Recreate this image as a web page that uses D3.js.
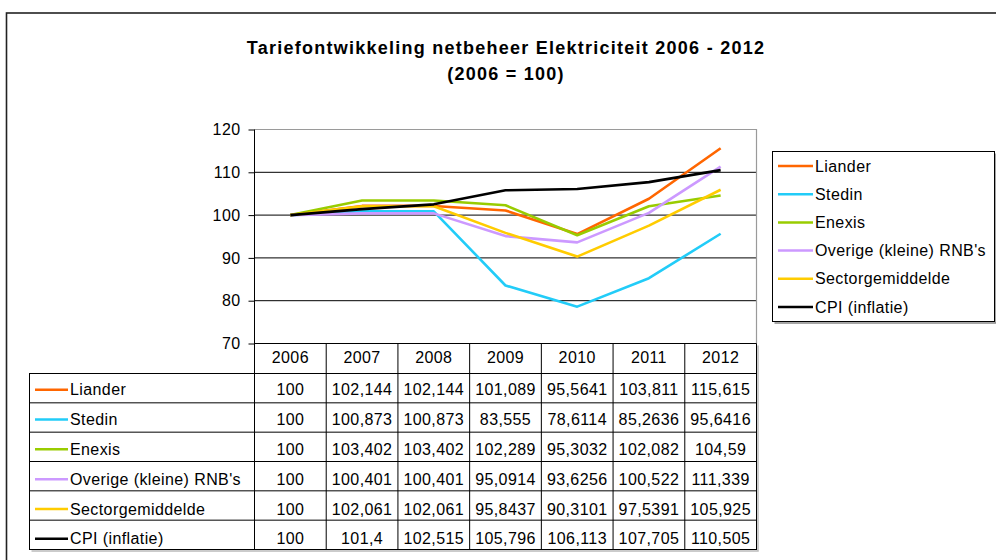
<!DOCTYPE html>
<html>
<head>
<meta charset="utf-8">
<script src="https://cdn.jsdelivr.net/npm/d3@7"></script>
<style>
  html, body { margin: 0; padding: 0; background: #fff; }
  svg { display: block; font-family: "Liberation Sans", Arial, sans-serif; }
</style>
</head>
<body>
<svg id="chart" width="996" height="560"></svg>
<script>
// ---- data ----
const years = ["2006", "2007", "2008", "2009", "2010", "2011", "2012"];
const seriesNames = ["Liander", "Stedin", "Enexis", "Overige (kleine) RNB's", "Sectorgemiddelde", "CPI (inflatie)"];
const liander  = [100, 102.144, 102.144, 101.089, 95.5641, 103.811, 115.615];
const stedin   = [100, 100.873, 100.873, 83.555, 78.6114, 85.2636, 95.6416];
const enexis   = [100, 103.402, 103.402, 102.289, 95.3032, 102.082, 104.59];
const overige  = [100, 100.401, 100.401, 95.0914, 93.6256, 100.522, 111.339];
const sector   = [100, 102.061, 102.061, 95.8437, 90.3101, 97.5391, 105.925];
const cpi      = [100, 101.4, 102.515, 105.796, 106.113, 107.705, 110.505];
const yTicks = [70, 80, 90, 100, 110, 120];
const colors = ["#FF6600", "#22CCF8", "#99CC00", "#CC99FF", "#FFCC00", "#000000"];
const titleLines = ["Tariefontwikkeling netbeheer Elektriciteit 2006 - 2012", "(2006 = 100)"];

const series = seriesNames.map((name, i) => ({
  name, color: colors[i], values: [liander, stedin, enexis, overige, sector, cpi][i]
}));

const svg = d3.select("#chart");
const FS = 16;

// outer chart border
svg.append("rect").attr("x", 6.5).attr("y", 13).attr("width", 1000).attr("height", 600)
  .attr("fill", "#fff").attr("stroke", "#222").attr("stroke-width", 1.6);

// title
svg.append("g").selectAll("text").data(titleLines).join("text")
  .attr("x", 506).attr("y", (d, i) => 54 + i * 26)
  .attr("text-anchor", "middle").attr("font-weight", "bold")
  .attr("font-size", 18).attr("letter-spacing", 1.25).attr("fill", "#000")
  .text(d => d);

// scales
const x = d3.scaleBand().domain(years).range([254.5, 756.5]);
const y = d3.scaleLinear().domain([70, 120]).range([343.5, 129.5]);
const rows = d3.scaleBand().domain(seriesNames).range([373.5, 549.5]);

// gridlines
svg.append("g").selectAll("line").data(yTicks.filter(t => t > 70 && t < 120)).join("line")
  .attr("x1", 254.5).attr("x2", 756.5).attr("y1", d => y(d)).attr("y2", d => y(d))
  .attr("stroke", "#000").attr("stroke-width", 1);

// plot area border (top/right grey)
svg.append("path")
  .attr("d", `M254.5,${y(120)}H756.5V${y(70)}`)
  .attr("fill", "none").attr("stroke", "#9a9a9a").attr("stroke-width", 1.2);

// y axis
const yAxis = d3.axisLeft(y).tickValues(yTicks).tickSize(6).tickPadding(8).tickFormat(d3.format("d"));
const ya = svg.append("g").attr("transform", "translate(254.5,0)").call(yAxis);
ya.select(".domain").remove();
ya.selectAll("line").attr("stroke", "#000");
ya.selectAll("text").attr("font-size", FS).attr("fill", "#000")
  .attr("font-family", "Liberation Sans, Arial, sans-serif").attr("letter-spacing", 0.4);

// series lines
const line = d3.line().x((d, i) => x(years[i]) + x.bandwidth() / 2).y(d => y(d));
svg.append("g").selectAll("path").data(series).join("path")
  .attr("d", d => line(d.values))
  .attr("fill", "none").attr("stroke", d => d.color).attr("stroke-width", 2.6)
  .attr("stroke-linejoin", "round");

// ---- data table ----
const tbl = svg.append("g");
const tLeft = 29.5, tRight = 756.5, tTop = 343.5, tBottom = rows.range()[1];
// shadow
tbl.append("path")
  .attr("d", `M${tRight + 1.5},${tTop + 2}V${tBottom + 1.5}H${tLeft + 2}`)
  .attr("fill", "none").attr("stroke", "#bbb").attr("stroke-width", 1.5);
// label column box + row lines
tbl.append("rect").attr("x", tLeft).attr("y", rows.range()[0]).attr("width", tRight - tLeft)
  .attr("height", tBottom - rows.range()[0]).attr("fill", "none").attr("stroke", "#000");
tbl.selectAll(".rowline").data(seriesNames.slice(1)).join("line")
  .attr("x1", tLeft).attr("x2", tRight).attr("y1", d => rows(d)).attr("y2", d => rows(d))
  .attr("stroke", "#000");
// header top line / axis line
tbl.append("line").attr("x1", 254.5).attr("x2", tRight).attr("y1", tTop).attr("y2", tTop).attr("stroke", "#000");
// vertical column lines
tbl.selectAll(".colline").data(years.concat(["end"])).join("line")
  .attr("x1", d => d === "end" ? tRight : x(d)).attr("x2", d => d === "end" ? tRight : x(d))
  .attr("y1", d => d === "2006" ? y(120) : tTop).attr("y2", tBottom)
  .attr("stroke", "#000");
// header texts
tbl.selectAll(".hdr").data(years).join("text")
  .attr("x", d => x(d) + x.bandwidth() / 2).attr("y", tTop + 14)
  .attr("dy", "0.35em").attr("text-anchor", "middle")
  .attr("font-size", FS).attr("letter-spacing", 0.4).text(d => d);
// row labels with legend keys
const rowG = tbl.selectAll(".row").data(series).join("g")
  .attr("transform", (d, i) => `translate(0,${rows(d.name) + rows.bandwidth() / 2 + 1.5 + i * 0.5})`);
rowG.append("line").attr("x1", 35).attr("x2", 68).attr("stroke", d => d.color).attr("stroke-width", 2.5);
rowG.append("text").attr("x", 70).attr("dy", "0.35em").attr("font-size", FS)
  .attr("letter-spacing", 0.4).text(d => d.name);
const fmt = v => String(+v.toPrecision(6)).replace(".", ",");
rowG.selectAll(".val").data(d => d.values).join("text")
  .attr("x", (v, i) => x(years[i]) + x.bandwidth() / 2).attr("dy", "0.35em")
  .attr("text-anchor", "middle").attr("font-size", FS).attr("letter-spacing", 0.4)
  .text(v => fmt(v));

// ---- legend ----
const lg = svg.append("g");
const lx = 772.5, ly = 151.5, lw = 222, lh = 170;
lg.append("path").attr("d", `M${lx + lw + 1.5},${ly + 2}V${ly + lh + 1.5}H${lx + 2}`)
  .attr("fill", "none").attr("stroke", "#888").attr("stroke-width", 1.5);
lg.append("rect").attr("x", lx).attr("y", ly).attr("width", lw).attr("height", lh)
  .attr("fill", "#fff").attr("stroke", "#000");
const ls = d3.scalePoint().domain(seriesNames).range([166, 307]);
const li = lg.selectAll(".li").data(series).join("g")
  .attr("transform", d => `translate(0,${ls(d.name)})`);
li.append("line").attr("x1", 778).attr("x2", 813).attr("stroke", d => d.color).attr("stroke-width", 2.5);
li.append("text").attr("x", 815).attr("dy", "0.35em").attr("font-size", FS)
  .attr("letter-spacing", 0.4).text(d => d.name);
</script>
</body>
</html>
